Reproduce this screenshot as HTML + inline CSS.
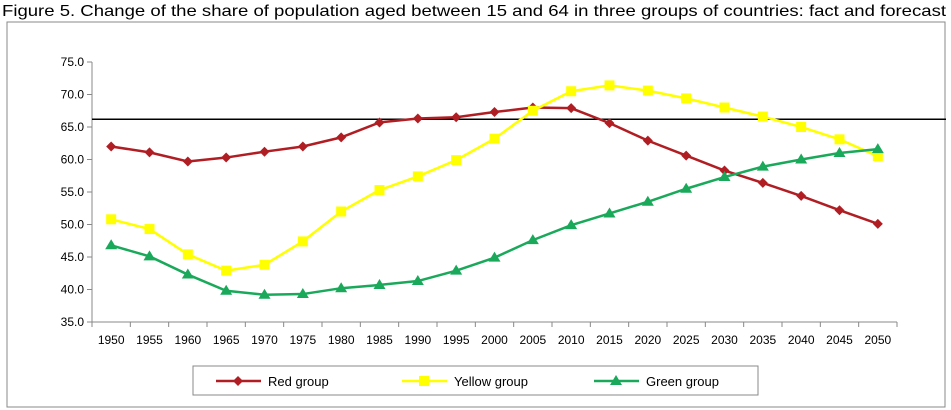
<!DOCTYPE html>
<html><head><meta charset="utf-8"><style>
body{margin:0;background:#fff;}
svg{display:block;font-family:"Liberation Sans",sans-serif;}
</style></head><body>
<svg id="chart" width="951" height="410">
<text x="2" y="16" font-size="16" textLength="944" lengthAdjust="spacingAndGlyphs" fill="#000" font-family="'Liberation Sans Narrow','Liberation Sans',sans-serif">Figure 5. Change of the share of population aged between 15 and 64 in three groups of countries: fact and forecast</text>
<rect x="7" y="22" width="938" height="385" fill="none" stroke="#888" stroke-width="1"/>
<g id="axes"></g>
<g id="series"></g>
<g id="legend"></g>
</svg>
<script>
const years=["1950","1955","1960","1965","1970","1975","1980","1985","1990","1995","2000","2005","2010","2015","2020","2025","2030","2035","2040","2045","2050"];
const redVals=[62.0,61.1,59.7,60.3,61.2,62.0,63.4,65.7,66.3,66.5,67.3,68.0,67.9,65.6,62.9,60.6,58.3,56.4,54.4,52.2,50.1];
const yellowVals=[50.8,49.3,45.4,42.9,43.8,47.4,52.0,55.3,57.4,59.9,63.2,67.5,70.5,71.4,70.6,69.4,68.0,66.6,65.0,63.1,60.5];
const greenVals=[46.8,45.1,42.3,39.8,39.2,39.3,40.2,40.7,41.3,42.9,44.9,47.6,49.9,51.7,53.5,55.5,57.3,58.9,60.0,61.0,61.6];
const yTicks=[35,40,45,50,55,60,65,70,75];
const refLine=[66.2];
const NS="http://www.w3.org/2000/svg";
const L=92,R=897,T=62,B=322,yMin=35,yMax=75;
const band=(R-L)/years.length;
function xs(i){return L+band*(i+0.5);}
function ys(v){return B-(v-yMin)/(yMax-yMin)*(B-T);}
function mk(tag,attrs,parent){const e=document.createElementNS(NS,tag);for(const k in attrs)e.setAttribute(k,attrs[k]);parent.appendChild(e);return e;}
const axes=document.getElementById('axes');
let a=mk('line',{x1:L,y1:T,x2:L,y2:B,stroke:'#888'},axes);


a=mk('line',{x1:L,y1:B,x2:R,y2:B,stroke:'#888'},axes);


yTicks.forEach(v=>{
 const y=ys(v);
 mk('line',{x1:L-5,y1:y,x2:L,y2:y,stroke:'#888'},axes);
 const t=mk('text',{x:L-8,y:y+4,'font-size':12,'text-anchor':'end'},axes);
 t.textContent=v.toFixed(1);
 
 
});
years.forEach((yr,i)=>{
 const x=L+band*i;
 mk('line',{x1:x,y1:B,x2:x,y2:B+5,stroke:'#888'},axes);
 const t=mk('text',{x:xs(i),y:B+22,'font-size':12,'text-anchor':'middle'},axes);
 t.textContent=yr;
 
 
});
mk('line',{x1:R,y1:B,x2:R,y2:B+5,stroke:'#888'},axes);
const rl=mk('line',{x1:L,y1:ys(refLine[0]),x2:946,y2:ys(refLine[0]),stroke:'#000','stroke-width':1.5},axes);


const sg=document.getElementById('series');
function marker(shape,x,y,color,parent){
 let m;
 if(shape==='diamond')m=mk('polygon',{points:`${x},${y-5} ${x+5},${y} ${x},${y+5} ${x-5},${y}`,fill:color},parent);
 else if(shape==='square')m=mk('rect',{x:x-5,y:y-5,width:10,height:10,fill:color},parent);
 else m=mk('polygon',{points:`${x},${y-6} ${x+6},${y+4} ${x-6},${y+4}`,fill:color},parent);
 return m;
}
const series=[[redVals,'#b01e23','diamond','red-group'],[yellowVals,'#ffff00','square','yellow-group'],[greenVals,'#1aa95a','triangle','green-group']];
series.forEach(([vals,color,shape,name])=>{
 const g=mk('g',{},sg);
 
 
 const p=mk('polyline',{points:vals.map((v,i)=>xs(i)+','+ys(v)).join(' '),fill:'none',stroke:color,'stroke-width':2.5},g);
 
 
 vals.forEach((v,i)=>{
  const m=marker(shape,xs(i),ys(v),color,g);
  
  
 });
});
const lg=document.getElementById('legend');
const box=mk('rect',{x:193,y:366,width:565,height:29,fill:'#fff',stroke:'#888'},lg);


const labels=['Red group','Yellow group','Green group'];
const lx=[216,402,594];
series.forEach(([v,color,shape,name],i)=>{
 const g=mk('g',{},lg);
 
 
 mk('line',{x1:lx[i],y1:381,x2:lx[i]+45,y2:381,stroke:color,'stroke-width':2.5},g);
 marker(shape,lx[i]+22,381,color,g);
 const t=mk('text',{x:lx[i]+52,y:386,'font-size':13},g);
 t.textContent=labels[i];
});
</script>
</body></html>
